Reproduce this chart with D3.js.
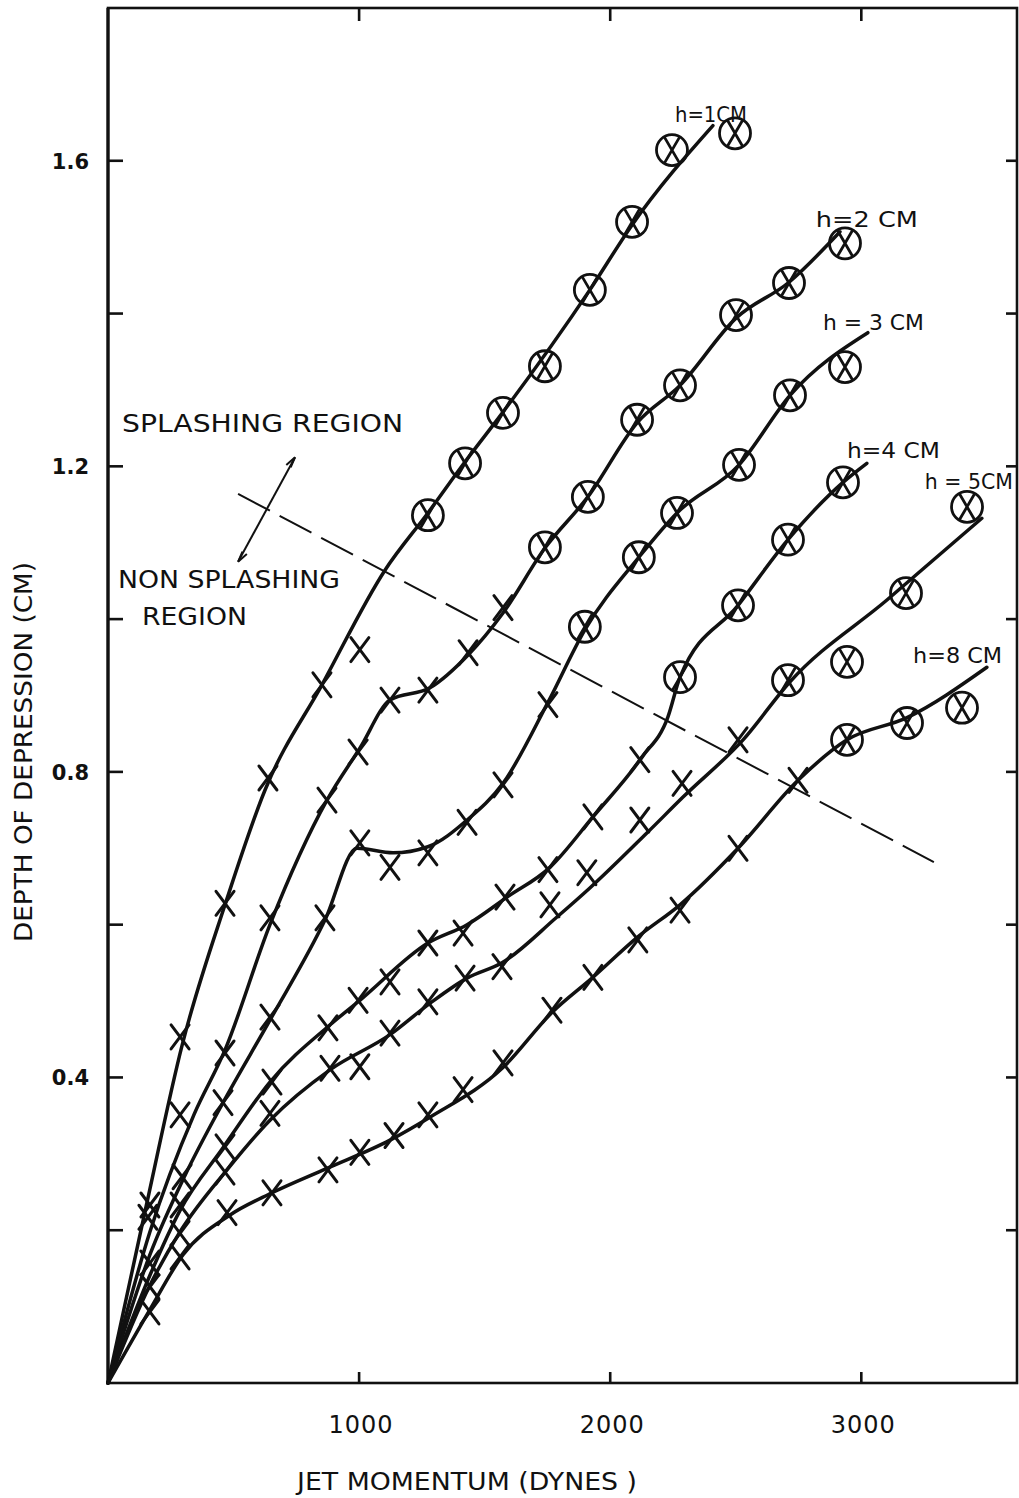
<!DOCTYPE html>
<html lang="en">
<head>
    <meta charset="UTF-8">
    <title>Depth of depression vs jet momentum</title>
    <script src="https://cdnjs.cloudflare.com/ajax/libs/d3/7.8.5/d3.min.js"></script>
</head>

<style>
body { margin: 0; background: #fff; }
svg text { font-family: "DejaVu Sans", sans-serif; fill: #111; }
.curve { fill: none; stroke: #111; stroke-width: 3.5px; stroke-linecap: round; stroke-linejoin: round; }
.mark { fill: none; stroke: #111; stroke-width: 2.8px; stroke-linecap: round; }
.frame { stroke: #111; stroke-width: 2.6px; fill: none; }
</style>

<body>
<script>

    // tick values
    var momentumTicks = [1000, 2000, 3000];
    var depthTicks = [0.2, 0.4, 0.6, 0.8, 1.0, 1.2, 1.4, 1.6];
    var depthLabels = [0.4, 0.8, 1.2, 1.6];

    // h = 1 cm : faired curve, plain points (non splashing), ringed points (splashing)
    var h1Curve = [[0,0],[155,0.236],[295,0.442],[466,0.626],[625,0.776],[852,0.914],[1103,1.064],
        [1274,1.139],[1422,1.206],[1573,1.271],[1919,1.431],[2087,1.516],[2409,1.646]];
    var h1Cross = [[167,0.233],[287,0.453],[466,0.628],[637,0.792],[852,0.914],[1003,0.960]];
    var h1Ring = [[1274,1.136],[1422,1.204],[1573,1.270],[1740,1.331],[1919,1.431],[2087,1.520],[2246,1.614],[2497,1.636]];

    // h = 2 cm
    var h2Curve = [[0,0],[167,0.198],[342,0.351],[466,0.436],[645,0.600],[872,0.763],[1003,0.831],[1123,0.894],
        [1282,0.910],[1434,0.953],[1573,1.008],[1740,1.093],[1911,1.160],[2107,1.257],[2278,1.306],[2501,1.394],
        [2712,1.441],[2915,1.507]];
    var h2Cross = [[159,0.217],[287,0.351],[466,0.432],[645,0.609],[872,0.763],[996,0.826],[1123,0.894],
        [1274,0.907],[1434,0.956],[1573,1.015]];
    var h2Ring = [[1740,1.094],[1911,1.160],[2107,1.261],[2278,1.306],[2501,1.398],[2712,1.440],[2935,1.492]];

    // h = 3 cm
    var h3Curve = [[0,0],[167,0.168],[307,0.272],[458,0.367],[645,0.475],[864,0.606],[992,0.700],[1135,0.694],
        [1274,0.702],[1430,0.737],[1573,0.785],[1752,0.891],[1899,0.986],[2114,1.081],[2266,1.139],[2513,1.202],
        [2716,1.293],[3026,1.375]];
    var h3Cross = [[167,0.157],[295,0.270],[458,0.367],[645,0.479],[864,0.609],[1003,0.707],[1123,0.675],
        [1274,0.694],[1430,0.734],[1573,0.783],[1752,0.888]];
    var h3Ring = [[1899,0.990],[2114,1.081],[2266,1.139],[2513,1.202],[2716,1.293],[2935,1.330]];

    // h = 4 cm
    var h4Curve = [[0,0],[167,0.141],[287,0.226],[458,0.308],[645,0.394],[892,0.471],[1003,0.501],[1274,0.576],
        [1430,0.600],[1589,0.636],[1760,0.675],[1931,0.741],[2126,0.819],[2230,0.872],[2278,0.924],[2509,1.018],
        [2708,1.104],[2927,1.179],[3022,1.204]];
    var h4Cross = [[167,0.126],[287,0.233],[466,0.309],[653,0.394],[876,0.465],[996,0.501],[1123,0.525],
        [1274,0.576],[1414,0.589],[1581,0.636],[1752,0.672],[1931,0.741],[2118,0.816]];
    var h4Ring = [[2278,0.924],[2509,1.018],[2708,1.104],[2927,1.179]];

    // h = 5 cm
    var h5Curve = [[0,0],[167,0.128],[287,0.198],[474,0.279],[645,0.344],[884,0.410],[1123,0.456],[1282,0.497],
        [1430,0.530],[1569,0.550],[1788,0.610],[1919,0.648],[2146,0.720],[2290,0.767],[2529,0.842],[2716,0.918],
        [3102,1.025],[3480,1.132]];
    var h5Cross = [[287,0.196],[466,0.276],[645,0.353],[884,0.412],[1003,0.414],[1123,0.458],[1274,0.499],
        [1422,0.530],[1569,0.545],[1760,0.626],[1907,0.668],[2118,0.737],[2286,0.785],[2509,0.842]];
    var h5Ring = [[2708,0.920],[2943,0.944],[3178,1.034],[3421,1.147]];

    // h = 8 cm
    var h8Curve = [[0,0],[167,0.096],[299,0.168],[486,0.220],[653,0.249],[872,0.281],[1123,0.318],[1282,0.348],
        [1573,0.413],[1768,0.485],[1931,0.531],[2110,0.584],[2278,0.626],[2509,0.700],[2748,0.789],[2943,0.842],
        [3182,0.871],[3500,0.937]];
    var h8Cross = [[167,0.093],[287,0.165],[474,0.223],[653,0.249],[876,0.279],[1003,0.302],[1139,0.324],
        [1274,0.351],[1414,0.384],[1573,0.419],[1768,0.488],[1931,0.531],[2110,0.580],[2278,0.619],[2509,0.700],
        [2748,0.789]];
    var h8Ring = [[2943,0.842],[3182,0.864],[3401,0.884]];

    var curveNames = ["h=1CM", "h=2 CM", "h = 3 CM", "h=4 CM", "h = 5CM", "h=8 CM"];

    // boundary between the two regimes (dashed) and the region arrow
    var boundary = [[518, 1.164], [3289, 0.682]];
    var regionArrow = [[745, 1.212], [518, 1.075]];

    var W = 1019, H = 1498;
    var x = d3.scaleLinear().domain([0, 3620]).range([108, 1017]);
    var y = d3.scaleLinear().domain([0, 1.8]).range([1383, 8]);

    var svg = d3.select("body").append("svg")
        .attr("width", W)
        .attr("height", H);

    // frame
    svg.append("rect").attr("class", "frame")
        .attr("x", x(0)).attr("y", y(1.8))
        .attr("width", x(3620) - x(0)).attr("height", y(0) - y(1.8));
    svg.append("line").attr("class", "frame")
        .attr("x1", x(0)).attr("x2", x(0)).attr("y1", y(1.8)).attr("y2", y(0))
        .style("stroke-width", 3.2);

    // ticks, all pointing into the plot
    svg.selectAll(".lt").data(depthTicks).enter().append("line").attr("class", "frame")
        .attr("x1", x(0)).attr("x2", x(0) + 15)
        .attr("y1", function(d) { return y(d); }).attr("y2", function(d) { return y(d); });
    svg.selectAll(".rt").data(depthTicks).enter().append("line").attr("class", "frame")
        .attr("x1", x(3620)).attr("x2", x(3620) - 11)
        .attr("y1", function(d) { return y(d); }).attr("y2", function(d) { return y(d); });
    svg.selectAll(".bt").data(momentumTicks).enter().append("line").attr("class", "frame")
        .attr("x1", function(d) { return x(d); }).attr("x2", function(d) { return x(d); })
        .attr("y1", y(0)).attr("y2", y(0) - 11);
    svg.selectAll(".tt").data(momentumTicks).enter().append("line").attr("class", "frame")
        .attr("x1", function(d) { return x(d); }).attr("x2", function(d) { return x(d); })
        .attr("y1", y(1.8)).attr("y2", y(1.8) + 13);

    // tick labels
    svg.selectAll(".yl").data(depthLabels).enter().append("text")
        .attr("x", 89)
        .attr("y", function(d) { return y(d) + 8; })
        .attr("text-anchor", "end")
        .style("font-size", "21px")
        .style("font-weight", "bold")
        .text(function(d) { return d.toFixed(1); });
    svg.selectAll(".xl").data(momentumTicks).enter().append("text")
        .attr("x", function(d) { return x(d) + 2; })
        .attr("y", 1433)
        .attr("text-anchor", "middle")
        .style("font-size", "24px")
        .style("letter-spacing", "1px")
        .text(function(d) { return d; });

    // axis titles
    svg.append("text")
        .attr("x", 297).attr("y", 1490)
        .attr("textLength", 340).attr("lengthAdjust", "spacingAndGlyphs")
        .style("font-size", "24px")
        .text("JET MOMENTUM (DYNES )");
    svg.append("text")
        .attr("transform", "translate(32,752) rotate(-90)")
        .attr("text-anchor", "middle")
        .attr("textLength", 380).attr("lengthAdjust", "spacingAndGlyphs")
        .style("font-size", "24px")
        .text("DEPTH OF DEPRESSION (CM)");

    // dashed regime boundary
    svg.append("line")
        .attr("x1", x(boundary[0][0])).attr("y1", y(boundary[0][1]))
        .attr("x2", x(boundary[1][0])).attr("y2", y(boundary[1][1]))
        .style("stroke", "#111").style("stroke-width", 2)
        .style("stroke-dasharray", "36,11");

    // double headed arrow across the boundary
    var defs = svg.append("defs");
    defs.append("marker").attr("id", "barb")
        .attr("viewBox", "-12 -6 14 12").attr("refX", 0).attr("refY", 0)
        .attr("markerWidth", 14).attr("markerHeight", 12).attr("markerUnits", "userSpaceOnUse")
        .attr("orient", "auto-start-reverse")
        .append("path").attr("d", "M0,0L-11,-4M0,0L-11,1")
        .style("stroke", "#111").style("stroke-width", 2).style("fill", "none");
    svg.append("line")
        .attr("x1", x(regionArrow[1][0])).attr("y1", y(regionArrow[1][1]))
        .attr("x2", x(regionArrow[0][0])).attr("y2", y(regionArrow[0][1]))
        .attr("marker-start", "url(#barb)").attr("marker-end", "url(#barb)")
        .style("stroke", "#111").style("stroke-width", 2);

    svg.append("text").attr("x", x(56)).attr("y", y(1.245))
        .attr("textLength", 281).attr("lengthAdjust", "spacingAndGlyphs")
        .style("font-size", "24px").text("SPLASHING REGION");
    svg.append("text").attr("x", x(40)).attr("y", y(1.041))
        .attr("textLength", 222).attr("lengthAdjust", "spacingAndGlyphs")
        .style("font-size", "24px").text("NON SPLASHING");
    svg.append("text").attr("x", x(135)).attr("y", y(0.992))
        .attr("textLength", 105).attr("lengthAdjust", "spacingAndGlyphs")
        .style("font-size", "24px").text("REGION");

    // the six curves
    var series = [
        {curve: h1Curve, cross: h1Cross, ring: h1Ring},
        {curve: h2Curve, cross: h2Cross, ring: h2Ring},
        {curve: h3Curve, cross: h3Cross, ring: h3Ring},
        {curve: h4Curve, cross: h4Cross, ring: h4Ring},
        {curve: h5Curve, cross: h5Cross, ring: h5Ring},
        {curve: h8Curve, cross: h8Cross, ring: h8Ring}
    ];

    var line = d3.line()
        .x(function(d) { return x(d[0]); })
        .y(function(d) { return y(d[1]); })
        .curve(d3.curveMonotoneX);

    svg.selectAll(".curve").data(series).enter().append("path")
        .attr("class", "curve")
        .attr("d", function(d) { return line(d.curve); });

    var allCross = [], allRing = [];
    series.forEach(function(s) {
        s.cross.forEach(function(p) { allCross.push(p); });
        s.ring.forEach(function(p) { allRing.push(p); });
    });

    svg.selectAll(".cross").data(allCross).enter().append("path")
        .attr("class", "mark")
        .style("stroke-width", 3)
        .attr("transform", function(d) { return "translate(" + x(d[0]) + "," + y(d[1]) + ")"; })
        .attr("d", "M-9,-12L9,12M9,-12L-9,12");

    var rings = svg.selectAll(".ring").data(allRing).enter().append("g")
        .attr("transform", function(d) { return "translate(" + x(d[0]) + "," + y(d[1]) + ")"; });
    rings.append("circle").attr("class", "mark").attr("r", 15.5);
    rings.append("path").attr("class", "mark").attr("d", "M-7,-12L7,12M7,-12L-7,12");

    // curve labels, placed in data units near each curve end
    var labelAt = [[2258, 1.651, 72], [2819, 1.513, 102], [2847, 1.378, 101],
                   [2943, 1.211, 93], [3253, 1.170, 88], [3206, 0.943, 89]];
    svg.selectAll(".hl").data(curveNames).enter().append("text")
        .attr("x", function(d, i) { return x(labelAt[i][0]); })
        .attr("y", function(d, i) { return y(labelAt[i][1]); })
        .attr("textLength", function(d, i) { return labelAt[i][2]; })
        .attr("lengthAdjust", "spacingAndGlyphs")
        .style("font-size", "22px")
        .text(function(d) { return d; });

</script>
</body>
</html>
